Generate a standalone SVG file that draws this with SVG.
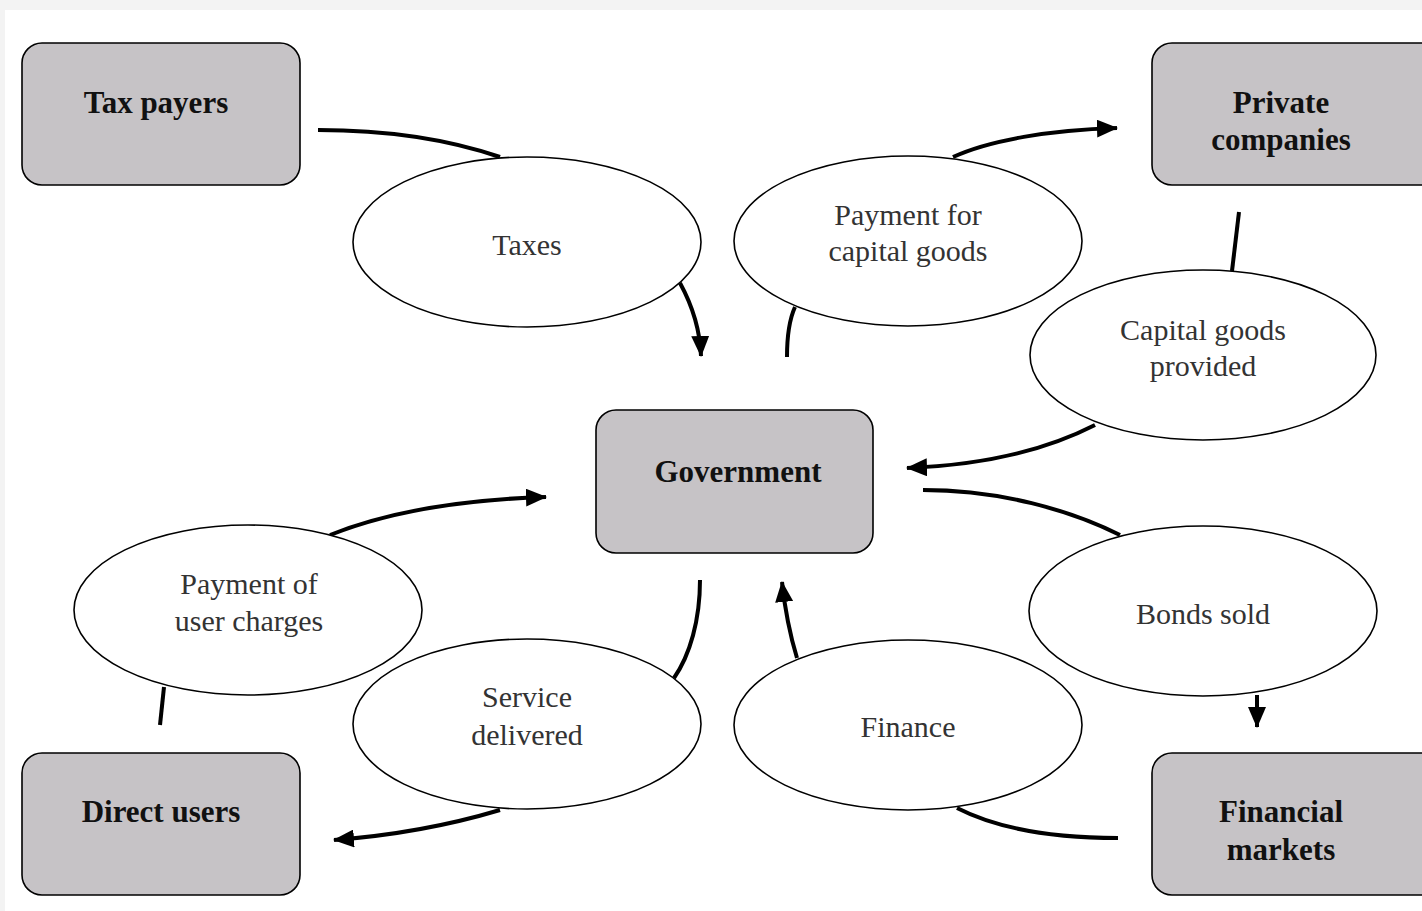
<svg xmlns="http://www.w3.org/2000/svg" width="1422" height="911" viewBox="0 0 1422 911">
<style>
.box{fill:#c6c3c6;stroke:#000;stroke-width:1.6}
.ell{fill:#fff;stroke:#000;stroke-width:1.6}
.bt{font-family:"Liberation Serif",serif;font-weight:bold;font-size:31px;fill:#111;text-anchor:middle}
.et{font-family:"Liberation Serif",serif;font-size:30px;fill:#333;text-anchor:middle}
.c{fill:none;stroke:#000;stroke-width:4}
</style>
<defs>
<marker id="ah" markerUnits="userSpaceOnUse" markerWidth="22" markerHeight="18" refX="20" refY="9" orient="auto" viewBox="0 0 22 18">
<path d="M0,0 L21,9 L0,18 z" fill="#000"/>
</marker>
</defs>
<rect width="1422" height="911" fill="#f3f3f3"/>
<rect x="5" y="10" width="1417" height="901" fill="#fff"/>
<g id="connectors">
<path class="c" d="M318,130 C390,130 450,140 500,157"/>
<path class="c" d="M680,283 C692,305 700,330 701,356" marker-end="url(#ah)"/>
<path class="c" d="M787,357 C787,335 790,318 795,307"/>
<path class="c" d="M953,157 C990,140 1050,130 1117,128" marker-end="url(#ah)"/>
<path class="c" d="M1239,212 L1232,271"/>
<path class="c" d="M1095,425 C1050,448 990,465 907,468" marker-end="url(#ah)"/>
<path class="c" d="M923,490 C1000,490 1070,510 1120,535"/>
<path class="c" d="M1257,695 L1257,727" marker-end="url(#ah)"/>
<path class="c" d="M1118,838 C1060,838 1000,830 957,808"/>
<path class="c" d="M797,658 C790,635 785,610 782,582" marker-end="url(#ah)"/>
<path class="c" d="M700,580 C700,620 690,655 674,678"/>
<path class="c" d="M500,810 C450,825 400,835 334,840" marker-end="url(#ah)"/>
<path class="c" d="M160,725 L164,687"/>
<path class="c" d="M330,535 C380,515 450,500 546,497" marker-end="url(#ah)"/>
</g>
<g id="tax-payers"><rect class="box" x="22" y="43" width="278" height="142" rx="20"/><text class="bt" x="156" y="113">Tax payers</text></g>
<g id="private-companies"><rect class="box" x="1152" y="43" width="290" height="142" rx="20"/><text class="bt" x="1281" y="113">Private</text><text class="bt" x="1281" y="150">companies</text></g>
<g id="government"><rect class="box" x="596" y="410" width="277" height="143" rx="20"/><text class="bt" x="738" y="482">Government</text></g>
<g id="direct-users"><rect class="box" x="22" y="753" width="278" height="142" rx="20"/><text class="bt" x="161" y="822">Direct users</text></g>
<g id="financial-markets"><rect class="box" x="1152" y="753" width="290" height="142" rx="20"/><text class="bt" x="1281" y="822">Financial</text><text class="bt" x="1281" y="860">markets</text></g>
<g id="taxes"><ellipse class="ell" cx="527" cy="242" rx="174" ry="85"/><text class="et" x="527" y="255">Taxes</text></g>
<g id="payment-capital"><ellipse class="ell" cx="908" cy="241" rx="174" ry="85"/><text class="et" x="908" y="225">Payment for</text><text class="et" x="908" y="261">capital goods</text></g>
<g id="capital-provided"><ellipse class="ell" cx="1203" cy="355" rx="173" ry="85"/><text class="et" x="1203" y="340">Capital goods</text><text class="et" x="1203" y="376">provided</text></g>
<g id="payment-user"><ellipse class="ell" cx="248" cy="610" rx="174" ry="85"/><text class="et" x="249" y="594">Payment of</text><text class="et" x="249" y="631">user charges</text></g>
<g id="service"><ellipse class="ell" cx="527" cy="724" rx="174" ry="85"/><text class="et" x="527" y="707">Service</text><text class="et" x="527" y="745">delivered</text></g>
<g id="finance"><ellipse class="ell" cx="908" cy="725" rx="174" ry="85"/><text class="et" x="908" y="737">Finance</text></g>
<g id="bonds"><ellipse class="ell" cx="1203" cy="611" rx="174" ry="85"/><text class="et" x="1203" y="624">Bonds sold</text></g>
</svg>
